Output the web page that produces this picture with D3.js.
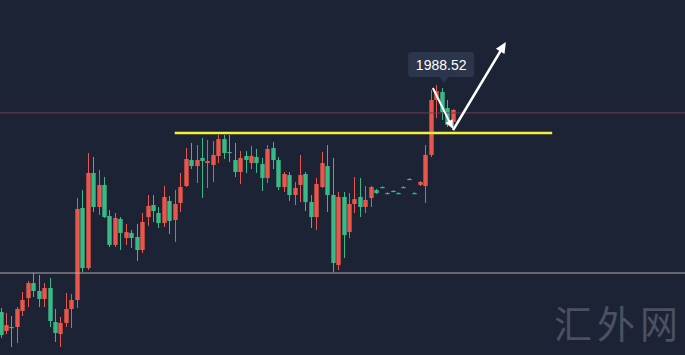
<!DOCTYPE html>
<html><head><meta charset="utf-8">
<script src="https://cdn.jsdelivr.net/npm/d3@7"></script>
<style>html,body{margin:0;padding:0;background:#1c2335;overflow:hidden}</style>
</head><body><svg id="c" width="685" height="355"></svg>
<script>
// ---- data (price units) ----
const open = [1837.2,1824.5,1827.2,1827.2,1837.9,1846.5,1856.5,1851.2,1845.9,1853.2,1830.5,1822.5,1829.9,1839.2,1845.2,1906.5,1866.5,1929.9,1907.2,1921.9,1901.2,1881.9,1899.2,1886.5,1889.9,1887.2,1878.5,1900.5,1908.5,1903.2,1896.5,1911.2,1898.5,1909.9,1921.2,1938.5,1934.5,1939.9,1936.5,1935.2,1941.2,1952.5,1943.9,1938.5,1930.5,1941.2,1936.5,1940.5,1935.9,1926.5,1946.5,1938.5,1920.5,1928.5,1915.2,1921.9,1929.2,1910.5,1900.5,1920.5,1934.5,1915.2,1868.5,1913.9,1890.5,1909.2,1913.9,1907.2,1913.2,1918.5,1920.5,1916.5,1917.9,1916.5,1920.5,1925.9,1916.5,1921.9,1921.2,1941.9,1978.5,1983.9,1973.2,1963.9];
const high = [1839.9,1836.5,1834.5,1840.5,1850.5,1857.9,1863.2,1861.9,1856.5,1859.9,1839.2,1833.9,1849.9,1849.2,1913.2,1918.5,1943.2,1940.5,1931.9,1927.2,1905.2,1903.2,1900.5,1895.9,1891.9,1895.9,1903.2,1915.2,1915.2,1907.2,1921.2,1914.5,1918.5,1929.9,1946.5,1949.9,1948.5,1953.2,1951.9,1951.2,1955.2,1955.2,1955.2,1949.9,1944.5,1944.5,1947.9,1945.9,1939.9,1948.5,1950.5,1940.5,1930.5,1930.5,1923.9,1941.9,1930.5,1915.2,1926.5,1943.9,1948.5,1939.9,1917.2,1917.2,1916.5,1927.2,1926.5,1921.2,1921.2,1919.2,1921.0,1917.0,1918.4,1917.0,1921.0,1926.4,1917.0,1924.5,1948.5,1985.2,1988.52,1986.5,1978.5,1972.5];
const low = [1819.9,1822.5,1813.9,1816.5,1834.5,1840.5,1847.2,1840.5,1840.5,1827.2,1817.2,1813.9,1827.2,1826.5,1839.9,1863.9,1865.2,1903.9,1901.9,1899.9,1880.5,1880.5,1878.5,1881.9,1879.9,1871.2,1876.5,1894.5,1897.2,1893.2,1893.9,1889.2,1883.9,1903.9,1920.5,1932.5,1923.2,1913.2,1919.9,1923.9,1936.5,1939.2,1937.2,1927.2,1922.5,1929.9,1932.5,1929.9,1917.9,1923.2,1932.5,1918.5,1917.2,1911.2,1908.5,1910.5,1904.5,1893.2,1891.9,1919.9,1903.9,1863.9,1865.2,1873.2,1886.5,1903.2,1900.5,1903.2,1907.2,1915.9,1920.0,1916.0,1917.4,1916.0,1920.0,1925.4,1916.0,1921.2,1909.9,1940.5,1966.5,1965.2,1960.5,1960.5];
const close = [1821.9,1828.5,1827.2,1839.2,1845.2,1856.5,1851.2,1845.9,1853.2,1831.2,1823.2,1829.9,1839.2,1845.2,1905.9,1866.5,1929.9,1907.2,1921.9,1900.5,1881.9,1899.9,1889.9,1890.5,1886.5,1878.5,1897.2,1907.9,1904.5,1896.5,1913.9,1897.9,1909.2,1920.5,1939.2,1934.5,1938.5,1937.9,1937.9,1941.9,1952.5,1943.2,1943.9,1930.5,1939.9,1938.5,1941.2,1936.5,1926.5,1945.9,1938.5,1920.5,1929.2,1915.2,1919.9,1928.5,1910.5,1900.5,1922.5,1936.5,1915.2,1869.9,1913.9,1888.5,1909.2,1912.5,1907.2,1911.9,1920.5,1916.5,1920.5,1916.5,1917.9,1916.5,1920.5,1925.9,1916.5,1923.9,1941.9,1978.5,1984.5,1970.5,1961.9,1971.9];
const categories = open.map((_, i) => i);          // candle index
const peakIndex = 80;
const peakLabel = "1988.52";
const peakPrice = 1988.52;
const currentLine = 1969.9;      // thin red horizontal line
const supportLine = 1863.2;      // thin grey horizontal line
const resistance = {price: 1956.5, from: 32, to: 101.3};   // yellow line
const arrowDown = [[79.4, 1986.5], [83.1, 1959.2]];
const arrowUp   = [[83.1, 1958.5], [92.8, 2017.2]];
const watermark = "汇外网";

// ---- chart ----
const W = 685, H = 355;
const UP = "#ea5649", DOWN = "#38b985";
const svg = d3.select("#c");
svg.append("rect").attr("width", W).attr("height", H).attr("fill", "#1c2335");

const x = d3.scaleLinear().domain([0, 83]).range([0.5, 452.5]);
const y = d3.scaleLinear().domain([2045.2, 1800]).range([0, 367.8]);
const bw = 4.4;

const data = categories.map(i => ({i, o: open[i], h: high[i], l: low[i], c: close[i]}));
const col = d => d.c > d.o ? UP : DOWN;

const g = svg.append("g");
g.selectAll("line.w").data(data).join("line")
  .attr("x1", d => Math.round(x(d.i)) + 0.5).attr("x2", d => Math.round(x(d.i)) + 0.5)
  .attr("y1", d => y(d.h)).attr("y2", d => y(d.l))
  .attr("stroke", col).attr("stroke-width", 1);
g.selectAll("rect.b").data(data).join("rect")
  .attr("x", d => Math.round(x(d.i)) + 0.5 - bw / 2)
  .attr("width", bw)
  .attr("y", d => y(Math.max(d.o, d.c)))
  .attr("height", d => Math.max(1.2, Math.abs(y(d.o) - y(d.c))))
  .attr("fill", col);

// horizontal lines
svg.append("line").attr("x1", 0).attr("x2", W)
  .attr("y1", y(currentLine)).attr("y2", y(currentLine))
  .attr("stroke", "#6e3f4e").attr("stroke-width", 1);
svg.append("line").attr("x1", 0).attr("x2", W)
  .attr("y1", y(supportLine)).attr("y2", y(supportLine))
  .attr("stroke", "#b3abae").attr("stroke-width", 1);
svg.append("line").attr("x1", x(resistance.from)).attr("x2", x(resistance.to))
  .attr("y1", y(resistance.price)).attr("y2", y(resistance.price))
  .attr("stroke", "#f2f23a").attr("stroke-width", 2.4);

// arrows
function arrow(pts, sw, hl, hw) {
  const [x0, y0] = [x(pts[0][0]), y(pts[0][1])];
  const [x1, y1] = [x(pts[1][0]), y(pts[1][1])];
  const dx = x1 - x0, dy = y1 - y0, len = Math.hypot(dx, dy);
  const ux = dx / len, uy = dy / len, px = -uy, py = ux;
  const bx = x1 - ux * hl, by = y1 - uy * hl;
  svg.append("line").attr("x1", x0).attr("y1", y0).attr("x2", bx + ux).attr("y2", by + uy)
    .attr("stroke", "#fff").attr("stroke-width", sw);
  svg.append("polygon")
    .attr("points", [[x1, y1], [bx + px * hw / 2, by + py * hw / 2], [bx - px * hw / 2, by - py * hw / 2]].map(p => p.join(",")).join(" "))
    .attr("fill", "#fff");
}
arrow(arrowDown, 2, 9, 8);
arrow(arrowUp, 2.6, 11, 10);

// tooltip
const tx = x(peakIndex) + 5, ty = y(peakPrice);
const tip = svg.append("g");
tip.append("rect").attr("x", tx - 33).attr("y", ty - 33).attr("width", 66).attr("height", 25)
  .attr("rx", 3).attr("fill", "#2b354b");
tip.append("path")
  .attr("d", `M${tx - 2},${ty - 8.5} L${tx + 8},${ty - 8.5} L${tx + 3},${ty - 2} Z`)
  .attr("fill", "#2b354b");
tip.append("text").attr("x", tx).attr("y", ty - 15.5).attr("text-anchor", "middle")
  .attr("font-family", "Liberation Sans, Arial, sans-serif").attr("font-size", 14)
  .attr("fill", "#ffffff").text(peakLabel);

// watermark
svg.append("text").attr("x", 554).attr("y", 338)
  .attr("font-family", "Noto Sans CJK SC").attr("font-size", 38)
  .attr("letter-spacing", 5).attr("fill", "#4a5161").text(watermark);
</script>
</body></html>
